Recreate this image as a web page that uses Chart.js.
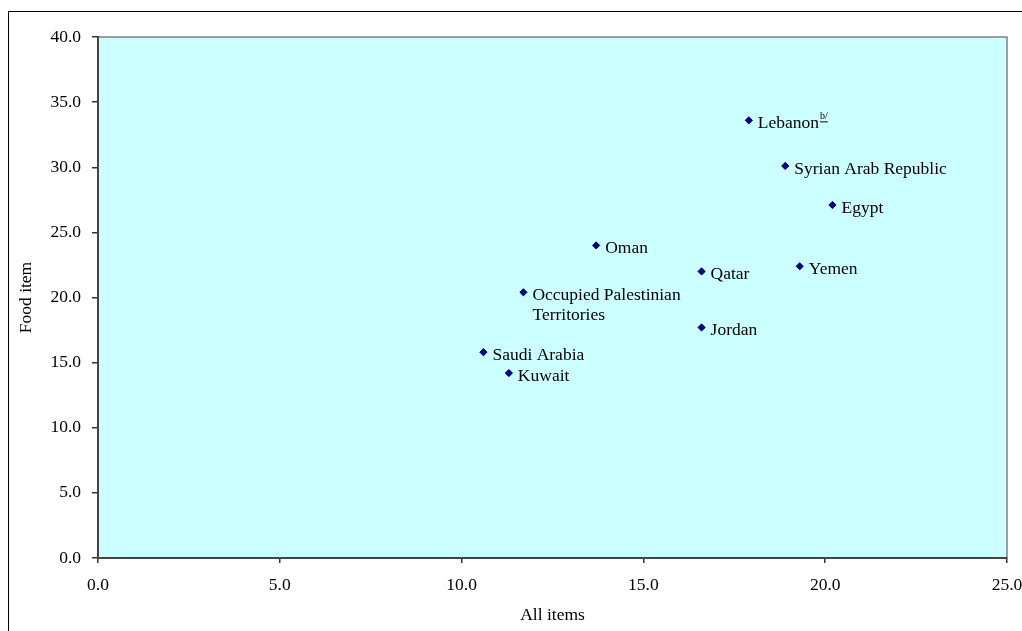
<!DOCTYPE html>
<html>
<head>
<meta charset="utf-8">
<script src="https://cdn.jsdelivr.net/npm/chart.js@4"></script>
<style>
  html, body { margin: 0; padding: 0; background: #fff; overflow: hidden; }
  #wrap { position: relative; width: 1022px; height: 631px; }
  #frame { position: absolute; left: 8px; top: 11px; width: 1200px; height: 800px; border: 1px solid #000; box-sizing: border-box; }
  #chart { position: absolute; left: 0; top: 0; }
</style>
</head>
<body>
<div id="wrap">
  <div id="frame"></div>
  <canvas id="chart" width="1022" height="631"></canvas>
</div>
<script>
const countries = ['Lebanon', 'Syrian Arab Republic', 'Egypt', 'Yemen', 'Qatar', 'Oman',
  'Occupied Palestinian Territories', 'Jordan', 'Saudi Arabia', 'Kuwait'];
const allItems = [17.9, 18.9, 20.2, 19.3, 16.6, 13.7, 11.7, 16.6, 10.6, 11.3];
const foodItem = [33.6, 30.1, 27.1, 22.4, 22.0, 24.0, 20.4, 17.7, 15.8, 14.2];
// label lines (Occupied Palestinian Territories wraps onto two lines)
const pointLabels = [['Lebanon'], ['Syrian Arab Republic'], ['Egypt'], ['Yemen'], ['Qatar'], ['Oman'],
  ['Occupied Palestinian', 'Territories'], ['Jordan'], ['Saudi Arabia'], ['Kuwait']];
const footnotes = ['b/', '', '', '', '', '', '', '', '', ''];
const xTicks = { min: 0, max: 25, step: 5 };
const yTicks = { min: 0, max: 40, step: 5 };

const FONT = '"Liberation Serif", "Times New Roman", serif';

// plot background and top/right border
const plotArea = {
  id: 'plotArea',
  beforeDraw(chart) {
    const { ctx, chartArea: a } = chart;
    ctx.save();
    ctx.fillStyle = '#CCFFFF';
    ctx.fillRect(a.left, a.top, a.right - a.left, a.bottom - a.top);
    ctx.strokeStyle = '#808080';
    ctx.lineWidth = 1.5;
    ctx.beginPath();
    ctx.moveTo(a.left, a.top);
    ctx.lineTo(a.right, a.top);
    ctx.lineTo(a.right, a.bottom);
    ctx.stroke();
    ctx.restore();
  }
};

// country names next to each marker
const labelPlugin = {
  id: 'pointNames',
  afterDatasetsDraw(chart) {
    const { ctx, scales } = chart;
    ctx.save();
    ctx.fillStyle = '#000';
    ctx.textBaseline = 'middle';
    ctx.textAlign = 'left';
    allItems.forEach((xv, i) => {
      const px = scales.x.getPixelForValue(xv) + 9;
      const py = scales.y.getPixelForValue(foodItem[i]) + 3;
      ctx.font = '17.5px ' + FONT;
      pointLabels[i].forEach((line, j) => {
        ctx.fillText(line, px, py + j * 20.5);
      });
      if (footnotes[i]) {
        const w = ctx.measureText(pointLabels[i][0]).width;
        ctx.font = '10px ' + FONT;
        const fx = px + w + 1;
        const fy = py - 7;
        ctx.fillText(footnotes[i], fx, fy);
        const fw = ctx.measureText(footnotes[i]).width;
        ctx.fillRect(fx, fy + 5, fw, 1);
      }
    });
    ctx.restore();
  }
};

new Chart(document.getElementById('chart').getContext('2d'), {
  type: 'scatter',
  data: {
    datasets: [{
      label: 'Food item vs All items',
      data: allItems.map((x, i) => ({ x, y: foodItem[i] })),
      pointStyle: 'rectRot',
      pointRadius: 3.6,
      pointHoverRadius: 3.6,
      backgroundColor: '#000080',
      borderColor: '#000080',
      borderWidth: 1
    }]
  },
  options: {
    responsive: false,
    animation: false,
    devicePixelRatio: 1,
    layout: { padding: { left: 0, right: 0, top: 37, bottom: 0 } },
    plugins: {
      legend: { display: false },
      tooltip: { enabled: false }
    },
    scales: {
      x: {
        type: 'linear',
        min: xTicks.min,
        max: xTicks.max,
        afterFit(scale) { scale.height = 73; scale.paddingRight = 15; },
        ticks: {
          stepSize: xTicks.step,
          color: '#000',
          padding: 12,
          maxRotation: 0,
          font: { family: FONT, size: 17.5 },
          callback: v => v.toFixed(1)
        },
        grid: { drawOnChartArea: false, drawTicks: true, tickLength: 5, color: '#333', lineWidth: 1.5 },
        border: { display: true, color: '#444', width: 2 },
        title: {
          display: true,
          text: 'All items',
          color: '#000',
          font: { family: FONT, size: 17.5 },
          padding: { top: 0, bottom: 5 }
        }
      },
      y: {
        type: 'linear',
        min: yTicks.min,
        max: yTicks.max,
        afterFit(scale) { scale.width = 98; },
        ticks: {
          stepSize: yTicks.step,
          color: '#000',
          padding: 11,
          font: { family: FONT, size: 17.5 },
          callback: v => v.toFixed(1)
        },
        grid: { drawOnChartArea: false, drawTicks: true, tickLength: 6, color: '#333', lineWidth: 1.5 },
        border: { display: true, color: '#444', width: 2 },
        title: {
          display: true,
          text: 'Food item',
          color: '#000',
          font: { family: FONT, size: 17.5 },
          padding: { top: 16, bottom: 0 }
        }
      }
    }
  },
  plugins: [plotArea, labelPlugin]
});
</script>
</body>
</html>
